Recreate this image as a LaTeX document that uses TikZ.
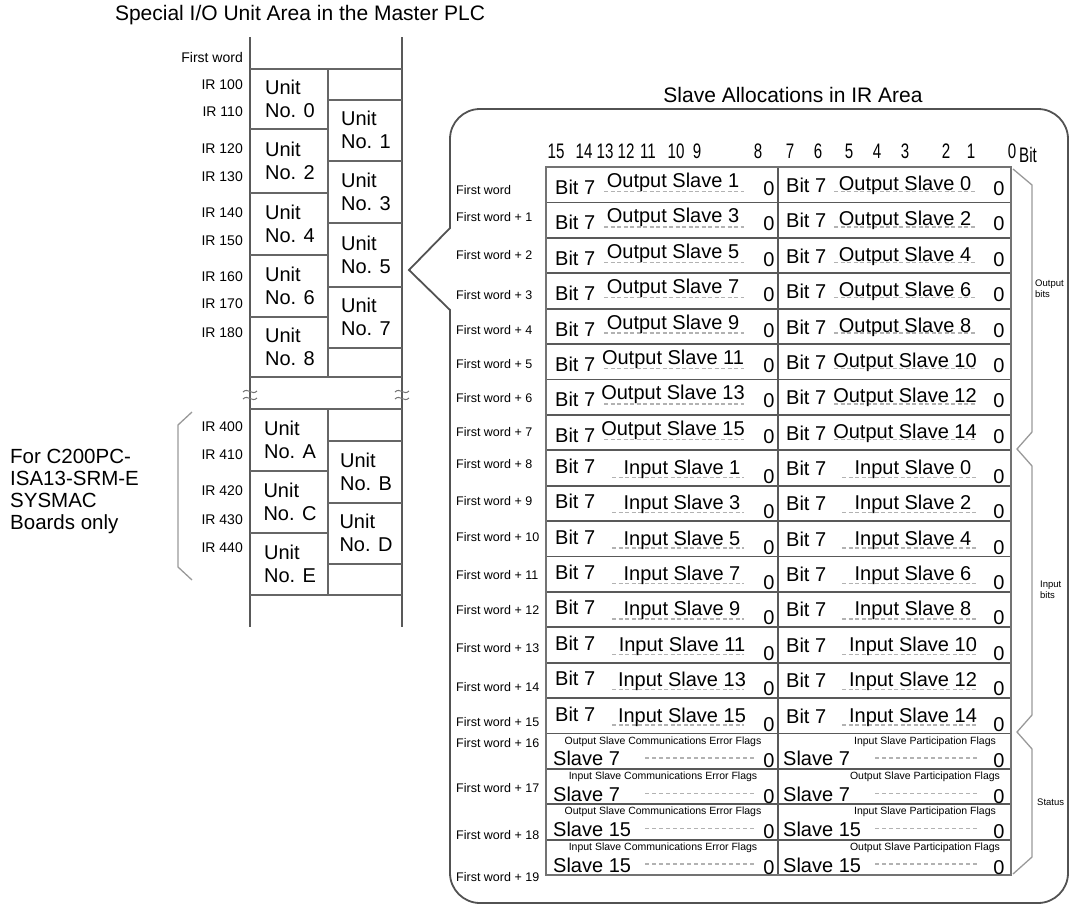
\documentclass[tikz,border=0pt]{standalone}
\usepackage{graphicx}
\usepackage{fontspec}
\setmainfont{Liberation Sans}
\newcommand{\narrowtxt}[1]{\scalebox{0.72}[1]{#1}}
\begin{document}
\begin{tikzpicture}[x=1pt,y=-1pt,
  ir/.style={font=\fontsize{14}{16}\selectfont, anchor=east, inner sep=0pt},
  unit/.style={font=\fontsize{20}{23}\selectfont, align=left, inner sep=0pt},
  note/.style={font=\fontsize{20.5}{22}\selectfont, align=left, inner sep=0pt},
  fw/.style={font=\fontsize{12.5}{14}\selectfont, anchor=west, inner sep=0pt},
  big/.style={font=\fontsize{20}{23}\selectfont, inner sep=0pt},
  hdr/.style={font=\fontsize{21}{24}\selectfont, inner sep=0pt},
  ttl/.style={font=\fontsize{21}{24}\selectfont, inner sep=0pt},
  capt/.style={font=\fontsize{10.5}{12}\selectfont, inner sep=0pt},
  side/.style={font=\fontsize{9.5}{11}\selectfont, align=left, anchor=west, inner sep=0pt},
  colline/.style={draw=black!65, line width=1.8pt},
  cellline/.style={draw=black!60, line width=1.6pt},
  tblout/.style={draw=black!55, line width=2.6pt},
  rowline/.style={draw=black!65, line width=1.8pt},
  dashline/.style={draw=black!30, line width=1.4pt, dash pattern=on 4pt off 2.5pt},
  frameline/.style={draw=black!68, line width=1.8pt},
  braceline/.style={draw=black!40, line width=1.3pt},
]
\useasboundingbox (0,0) rectangle (1069,908);

% ---------------- Titles ----------------
\node[ttl] (title1) at (300,15) {Special I/O Unit Area in the Master PLC};
\node[ttl] (title2) at (793,95) {Slave Allocations in IR Area};

% ---------------- Left column ----------------
\draw[colline] (250,37) -- (250,627);
\draw[colline] (402,37) -- (402,627);
\foreach \yy in {69,377,409,595} \draw[cellline] (250,\yy) -- (402,\yy);
\draw[cellline] (328,69) -- (328,377);
\draw[cellline] (328,409) -- (328,595);
\foreach \yy in {129,193,255,317,471,533} \draw[cellline] (250,\yy) -- (328,\yy);
\foreach \yy in {100,161,223,287,348,441,503,564} \draw[cellline] (328,\yy) -- (402,\yy);
% break marks
\foreach \xx in {250,402}{
  \draw[black!55, line width=1pt] (\xx-7,392) .. controls (\xx-2,387) and (\xx+2,396) .. (\xx+7,391);
  \draw[black!55, line width=1pt] (\xx-7,399) .. controls (\xx-2,394) and (\xx+2,403) .. (\xx+7,398);
}

\node[ir] (fwl) at (243,57) {First word};
\foreach \t/\yy in {100/85,110/112,120/149,130/177,140/213,150/241,160/277,170/304,180/333,400/427,410/455,420/491,430/520,440/548}
  \node[ir] (ir\t) at (243,\yy) {IR \t};

\foreach \n/\xx/\yy in {0/290/99,2/290/161,4/290/224,6/290/286,8/290/347,1/366/130,3/366/192,5/366/255,7/366/317,A/290/440,C/290/502,E/290/564,B/366/472,D/366/533}
  \node[unit] (u\n) at (\xx,\yy) {Unit\\No. \n};

% bracket and note
\draw[braceline] (192,412) -- (178,425) -- (178,567) -- (192,580);
\node[note, anchor=north west] (note) at (10,449) {For C200PC-\\ISA13-SRM-E\\SYSMAC\\Boards only};

% ---------------- Right frame ----------------
\draw[frameline] (450,228) -- (450,139) arc[start angle=180,end angle=270,radius=30]
  -- (1038,109) arc[start angle=270,end angle=360,radius=30]
  -- (1068,873) arc[start angle=0,end angle=90,radius=30]
  -- (480,903) arc[start angle=90,end angle=180,radius=30]
  -- (450,310) -- (409,270) -- cycle;

% header bit numbers
\foreach \n/\xx in {15/556,14/584,13/605,12/626,11/648,10/676,9/697,8/758,7/790,6/818,5/849,4/877,3/905,2/946,1/971,0/1012}
  \node[hdr, anchor=base] (h\n) at (\xx,158) {\narrowtxt{\n}};
\node[hdr, anchor=base west] (hbit) at (1019,162) {\narrowtxt{Bit}};

% table grid
\foreach \i in {1,...,19}{
  \pgfmathsetmacro\yy{167+35.4*\i}
  \draw[rowline] (546,\yy) -- (1011,\yy);
}
\draw[rowline] (778,167) -- (778,875);
\draw[tblout] (546,167) rectangle (1011,875);

% row labels
\node[fw] (fw0) at (456,190) {First word};
\foreach \yy [count=\k] in {217,255,295,330,364,398,432,464,501,537,575,610,648,687,722,743,788,835,877}
  \node[fw] (fw\k) at (456,\yy) {First word + \k};

% output rows
\foreach \i in {0,...,7}{
  \pgfmathsetmacro\bt{167+35.4*(\i+1)}
  \pgfmathtruncatemacro\sl{2*\i+1}
  \pgfmathtruncatemacro\sr{2*\i}
  \draw[dashline] (604,{\bt-11}) -- (744,{\bt-11});
  \draw[dashline] (834,{\bt-11}) -- (976,{\bt-11});
  \node[big, anchor=base west] (obl\i) at (555,{\bt-8}) {Bit 7};
  \node[big, anchor=base] (osl\i) at (673,{\bt-15}) {Output Slave \sl};
  \node[big, anchor=base] (ozl\i) at (769,{\bt-7}) {0};
  \node[big, anchor=base west] (obr\i) at (786,{\bt-10}) {Bit 7};
  \node[big, anchor=base] (osr\i) at (905,{\bt-12}) {Output Slave \sr};
  \node[big, anchor=base] (ozr\i) at (999,{\bt-7}) {0};
}

% input rows
\foreach \i in {8,...,15}{
  \pgfmathsetmacro\tp{167+35.4*\i}
  \pgfmathtruncatemacro\sl{2*(\i-8)+1}
  \pgfmathtruncatemacro\sr{2*(\i-8)}
  \draw[dashline] (612,{\tp+27}) -- (744,{\tp+27});
  \draw[dashline] (842,{\tp+27}) -- (976,{\tp+27});
  \node[big, anchor=base west] (ibl\i) at (555,{\tp+23}) {Bit 7};
  \node[big, anchor=base] (isl\i) at (682,{\tp+24}) {Input Slave \sl};
  \node[big, anchor=base] (izl\i) at (769,{\tp+33}) {0};
  \node[big, anchor=base west] (ibr\i) at (786,{\tp+25}) {Bit 7};
  \node[big, anchor=base] (isr\i) at (913,{\tp+24}) {Input Slave \sr};
  \node[big, anchor=base] (izr\i) at (999,{\tp+33}) {0};
}

% status rows
\foreach \i/\cl/\cr/\s in {16/Output Slave Communications Error Flags/Input Slave Participation Flags/7,
                          17/Input Slave Communications Error Flags/Output Slave Participation Flags/7,
                          18/Output Slave Communications Error Flags/Input Slave Participation Flags/15,
                          19/Input Slave Communications Error Flags/Output Slave Participation Flags/15}{
  \pgfmathsetmacro\tp{167+35.4*\i}
  \pgfmathsetmacro\bt{\tp+35.4}
  \node[capt] (scl\i) at (663,{\tp+8}) {\cl};
  \node[capt] (scr\i) at (925,{\tp+8}) {\cr};
  \node[big, anchor=base west] (ssl\i) at (553,{\bt-3}) {Slave \s};
  \node[big, anchor=base west] (ssr\i) at (783,{\bt-3}) {Slave \s};
  \draw[dashline, dash pattern=on 4pt off 3pt] (645,{\bt-11}) -- (755,{\bt-11});
  \draw[dashline, dash pattern=on 4pt off 3pt] (875,{\bt-11}) -- (977,{\bt-11});
  \node[big, anchor=base] (szl\i) at (769,{\bt-1}) {0};
  \node[big, anchor=base] (szr\i) at (999,{\bt-1}) {0};
}

% right braces
\draw[braceline] (1013,169) -- (1032,185) -- (1032,432) -- (1017,449) -- (1032,466)
  -- (1032,715) -- (1017,732) -- (1032,749) -- (1032,857) -- (1013,874);
\node[side] (outbits) at (1035,289) {Output\\bits};
\node[side] (inbits) at (1040,590) {Input\\bits};
\node[side] (status) at (1037,802) {Status};
\end{tikzpicture}
\end{document}
